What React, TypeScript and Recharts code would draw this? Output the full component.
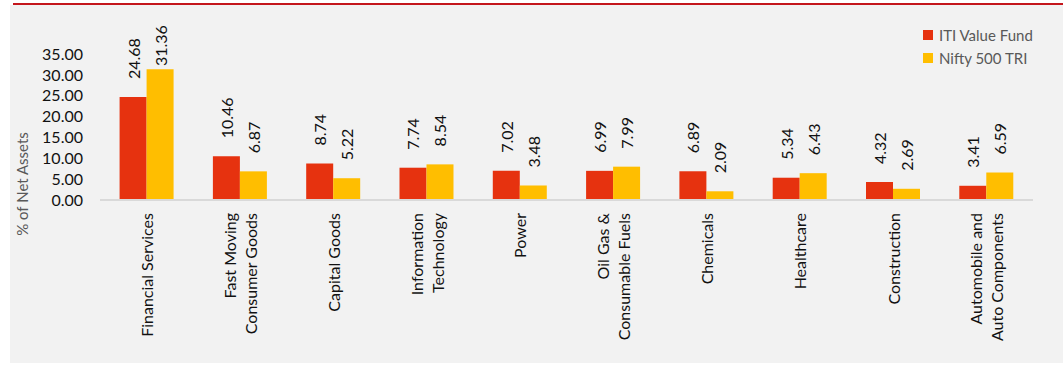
import { BarChart, Bar, XAxis, YAxis, LabelList } from 'recharts';

const categories = [
  'Financial Services',
  'Fast Moving\nConsumer Goods',
  'Capital Goods',
  'Information\nTechnology',
  'Power',
  'Oil Gas &\nConsumable Fuels',
  'Chemicals',
  'Healthcare',
  'Construction',
  'Automobile and\nAuto Components',
];
const fundValues = [24.68, 10.46, 8.74, 7.74, 7.02, 6.99, 6.89, 5.34, 4.32, 3.41];
const niftyValues = [31.36, 6.87, 5.22, 8.54, 3.48, 7.99, 2.09, 6.43, 2.69, 6.59];
const yTicks = [0, 5, 10, 15, 20, 25, 30, 35];

const FONT = 'Lato, "Open Sans", sans-serif';
const RED = '#E6320F';
const GOLD = '#FFBE00';

const data = categories.map((name, i) => ({
  name,
  fund: fundValues[i],
  nifty: niftyValues[i],
}));

const CategoryTick = (props: any) => {
  const { x, y, payload } = props;
  const lines = String(payload.value).split('\n');
  const lh = 21;
  return (
    <g>
      {lines.map((line, i) => (
        <text
          key={i}
          transform={`translate(${x + (i - (lines.length - 1) / 2) * lh},${y + 13}) rotate(-90)`}
          textAnchor="end"
          dominantBaseline="central"
          fontSize={16}
          fontFamily={FONT}
          fill="#111"
        >
          {line}
        </text>
      ))}
    </g>
  );
};

const ValueLabel = (props: any) => {
  const { x, y, width, value } = props;
  const cx = x + width / 2;
  // keep tall labels inside the chart box, like the spreadsheet does
  const sy = Math.max(y - 18, 66);
  return (
    <text
      transform={`translate(${cx},${sy}) rotate(-90)`}
      textAnchor="start"
      dominantBaseline="central"
      fontSize={16}
      fontFamily={FONT}
      fill="#111"
    >
      {Number(value).toFixed(2)}
    </text>
  );
};

const legendItems = [
  { label: 'ITI Value Fund', color: RED },
  { label: 'Nifty 500 TRI', color: GOLD },
];

export default function App() {
  return (
    <div style={{ position: 'absolute', left: 0, top: 0, width: 1063, height: 367, background: '#fff', overflow: 'hidden' }}>
      <div style={{ position: 'absolute', left: 10, top: 5, width: 1053, height: 358, background: '#f2f2f2' }} />
      <div style={{ position: 'absolute', left: 13, top: 3, right: 0, height: 2, background: '#c4161c' }} />
      <div style={{ position: 'absolute', left: 0, top: 0 }}>
        <BarChart
          width={1063}
          height={367}
          data={data}
          margin={{ top: 54, right: 30, bottom: 0, left: 0 }}
          barCategoryGap="21%"
          barGap={0}
        >
          <XAxis
            dataKey="name"
            height={167}
            interval={0}
            tickLine={false}
            tickSize={0}
            tickMargin={0}
            axisLine={{ stroke: '#d9d9d9', strokeWidth: 2 }}
            tick={<CategoryTick />}
          />
          <YAxis
            width={100}
            domain={[0, 35]}
            ticks={yTicks}
            interval={0}
            axisLine={false}
            tickLine={false}
            tickSize={0}
            tickMargin={17}
            tickFormatter={(v: number) => v.toFixed(2)}
            tick={{ fontSize: 16, fontFamily: FONT, fill: '#111' }}
            label={{
              content: () => (
                <text
                  transform="translate(22,184) rotate(-90)"
                  textAnchor="middle"
                  dominantBaseline="central"
                  fontSize={15}
                  fontFamily={FONT}
                  fill="#595959"
                >
                  % of Net Assets
                </text>
              ),
            }}
          />
          <Bar dataKey="fund" name="ITI Value Fund" fill={RED} isAnimationActive={false}>
            <LabelList dataKey="fund" content={<ValueLabel />} />
          </Bar>
          <Bar dataKey="nifty" name="Nifty 500 TRI" fill={GOLD} isAnimationActive={false}>
            <LabelList dataKey="nifty" content={<ValueLabel />} />
          </Bar>
        </BarChart>
      </div>
      <div style={{ position: 'absolute', left: 923, top: 23, fontFamily: FONT, fontSize: 15, color: '#595959' }}>
        {legendItems.map((item) => (
          <div key={item.label} style={{ display: 'flex', alignItems: 'center', height: 23 }}>
            <span style={{ width: 10, height: 10, background: item.color, marginRight: 6 }} />
            <span>{item.label}</span>
          </div>
        ))}
      </div>
    </div>
  );
}
